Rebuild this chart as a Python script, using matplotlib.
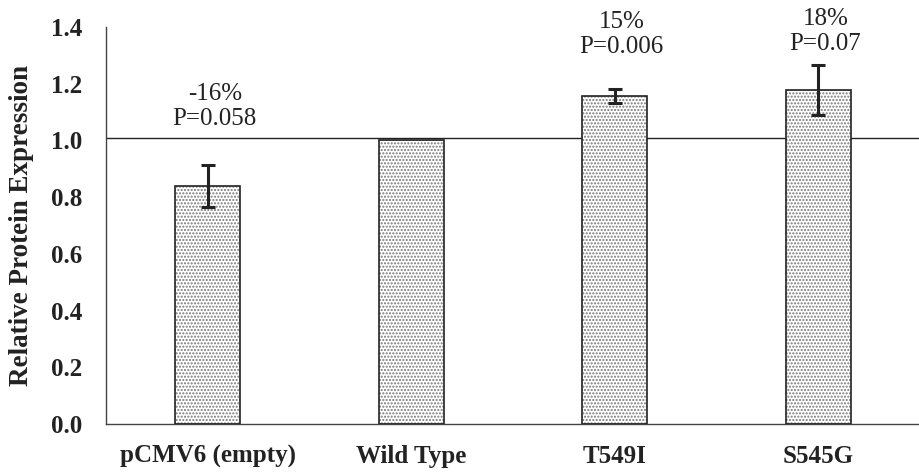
import matplotlib.pyplot as plt
import numpy as np

plt.rcParams['font.family'] = ['Liberation Serif', 'DejaVu Serif']
plt.rcParams['hatch.color'] = '#666666'
plt.rcParams['hatch.linewidth'] = 1.0

categories = ['pCMV6 (empty)', 'Wild Type', 'T549I', 'S545G']
values = [0.84, 1.0, 1.155, 1.178]
errors = [0.074, 0.0, 0.025, 0.087]
annotations = ['-16%\nP=0.058', '', '15%\nP=0.006', '18%\nP=0.07']
ref_level = 1.01

# where the bottom of each annotation sits (data units)
label_y = [1.035, None, 1.29, 1.30]

fig = plt.figure(figsize=(9.2, 4.72), dpi=100)
ax = fig.add_axes([0.115, 0.1017, 0.885, 0.8413])

x = np.arange(len(categories))
w = 0.32
# dotted fill, then black outline on top
ax.bar(x, values, width=w, color='white', hatch='.....', edgecolor='#777777', linewidth=0, zorder=2)
ax.bar(x, values, width=w, color='none', edgecolor='#222222', linewidth=1.2, zorder=3)
for xi, v, e in zip(x, values, errors):
    if e > 0:
        ax.errorbar(xi, v, yerr=e, fmt='none', ecolor='#222222', elinewidth=2.2,
                    capsize=5, capthick=2.2, zorder=4)

ax.axhline(ref_level, color='#222222', linewidth=1.0, zorder=1)

for xi, ly, txt in zip(x, label_y, annotations):
    if txt:
        ax.text(xi + 0.035, ly, txt, ha='center', va='bottom', fontsize=18,
                linespacing=1.2, color='#222222')

ax.set_xlim(-0.5, 3.5)
ax.set_ylim(0, 1.4)
ax.set_yticks(np.arange(0, 1.41, 0.2))
ax.set_yticklabels([f'{t:.1f}' for t in np.arange(0, 1.41, 0.2)])
ax.set_xticks(x)
ax.set_xticklabels(categories)
ax.tick_params(length=0, labelsize=18)
ax.tick_params(axis='y', pad=17)
ax.tick_params(axis='x', pad=15)
for lab in ax.get_xticklabels() + ax.get_yticklabels():
    lab.set_fontweight('bold')
    lab.set_color('#222222')
ax.set_ylabel('Relative Protein Expression', fontsize=19.5, fontweight='bold', labelpad=12, color='#222222')

for s in ['top', 'right']:
    ax.spines[s].set_visible(False)
for s in ['left', 'bottom']:
    ax.spines[s].set_color('#444444')
    ax.spines[s].set_linewidth(1.0)

fig.savefig('out.png', dpi=100)
